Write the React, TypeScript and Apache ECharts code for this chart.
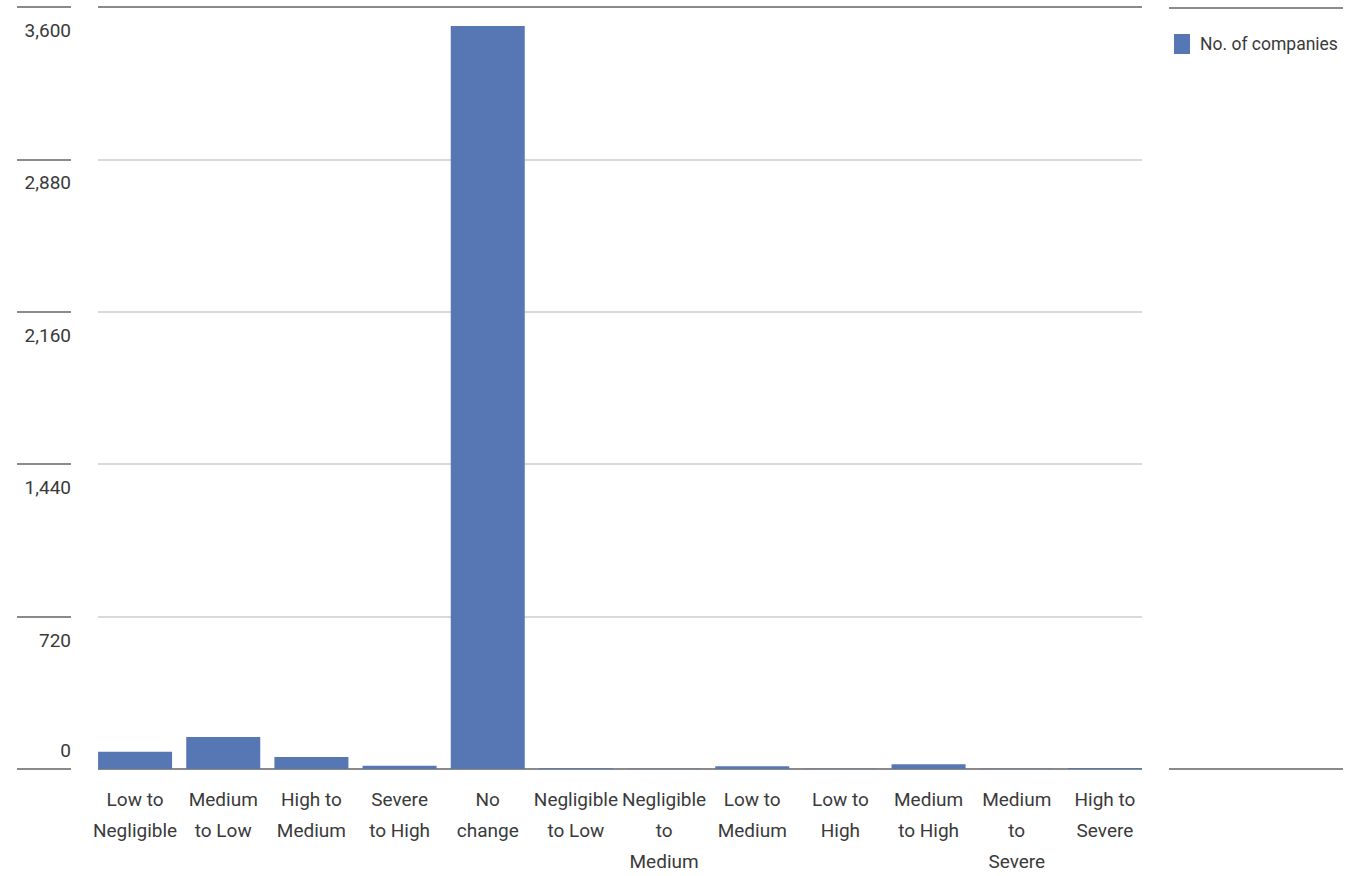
import React, { useEffect, useRef } from "react";
import * as echarts from "echarts";

// Rating transitions and how many companies made each move
const categories = [
  "Low to\nNegligible",
  "Medium\nto Low",
  "High to\nMedium",
  "Severe\nto High",
  "No\nchange",
  "Negligible\nto Low",
  "Negligible\nto\nMedium",
  "Low to\nMedium",
  "Low to\nHigh",
  "Medium\nto High",
  "Medium\nto\nSevere",
  "High to\nSevere",
];
const companyCounts = [82, 151, 57, 15, 3510, 4, 1, 13, 1, 22, 1, 5];
const seriesName = "No. of companies";
const yMin = 0;
const yMax = 3600;
const yStep = 720;

const FONT = "Roboto, 'Liberation Sans', sans-serif";
const TEXT = "#3a3a3a";
const RULE = "#8a8a8a";
const GRID = "#d9d9d9";
const BAR = "#5677b3";

export default function App() {
  const ref = useRef<HTMLDivElement>(null);

  useEffect(() => {
    if (!ref.current) return;
    const chart = echarts.init(ref.current, undefined, { renderer: "svg" });
    const fmt = (v: number) => v.toLocaleString("en-US");
    const valueAxisBase = { type: "value", min: yMin, max: yMax, interval: yStep };
    const gridBase = { top: 7, bottom: 107, containLabel: false, outerBoundsMode: "none" };
    const labelBase = { margin: 0, fontFamily: FONT, fontSize: 19, color: TEXT, inside: true };
    chart.setOption({
      animation: false,
      textStyle: { fontFamily: FONT },
      grid: [
        // bars: categories laid out slightly wider than the ruled area
        { ...gridBase, left: 91, right: 212 },
        // ruled plot area: gridlines and baseline
        { ...gridBase, left: 98, right: 219 },
        // short rules and value labels at the left
        { ...gridBase, left: 17, right: 1290 },
      ],
      legend: {
        data: [seriesName],
        left: 1169,
        top: 29,
        icon: "rect",
        itemWidth: 16,
        itemHeight: 20,
        textStyle: { fontFamily: FONT, fontSize: 17.5, color: TEXT, padding: [0, 0, 0, 5] },
      },
      xAxis: [
        {
          type: "category",
          gridIndex: 0,
          data: categories,
          axisTick: { show: false },
          axisLine: { show: false },
          axisLabel: {
            interval: 0,
            fontFamily: FONT,
            fontSize: 19,
            lineHeight: 31,
            color: TEXT,
            margin: 15,
          },
        },
        { type: "value", gridIndex: 1, min: 0, max: 1, show: false },
        { type: "value", gridIndex: 2, min: 0, max: 1, show: false },
      ],
      yAxis: [
        { ...valueAxisBase, gridIndex: 0, show: false },
        {
          ...valueAxisBase,
          gridIndex: 1,
          axisLine: { show: false },
          axisTick: { show: false },
          axisLabel: { show: false },
          splitLine: {
            lineStyle: { color: [RULE, GRID, GRID, GRID, GRID, RULE], width: 2 },
          },
        },
        {
          ...valueAxisBase,
          gridIndex: 2,
          position: "right",
          axisLine: { show: false },
          axisTick: { show: false },
          splitLine: { lineStyle: { color: RULE, width: 2 } },
          axisLabel: {
            ...labelBase,
            verticalAlign: "top",
            padding: [14, 0, 0, 0],
            formatter: (v: number) => (v === 0 ? "" : fmt(v)),
          },
        },
        {
          ...valueAxisBase,
          gridIndex: 2,
          position: "right",
          axisLine: { show: false },
          axisTick: { show: false },
          splitLine: { show: false },
          axisLabel: {
            ...labelBase,
            verticalAlign: "bottom",
            padding: [0, 0, 9, 0],
            formatter: (v: number) => (v === 0 ? fmt(v) : ""),
          },
        },
      ],
      graphic: [
        {
          type: "line",
          shape: { x1: 1169, y1: 8, x2: 1343, y2: 8 },
          style: { stroke: RULE, lineWidth: 2 },
        },
        {
          type: "line",
          shape: { x1: 1169, y1: 769, x2: 1343, y2: 769 },
          style: { stroke: RULE, lineWidth: 2 },
        },
      ],
      series: [
        {
          name: seriesName,
          type: "bar",
          xAxisIndex: 0,
          yAxisIndex: 0,
          data: companyCounts,
          barWidth: 74,
          itemStyle: { color: BAR },
          z: 3,
        },
      ],
    });
    return () => chart.dispose();
  }, []);

  return (
    <div
      ref={ref}
      style={{ position: "absolute", left: 0, top: 0, width: 1361, height: 876 }}
    />
  );
}
